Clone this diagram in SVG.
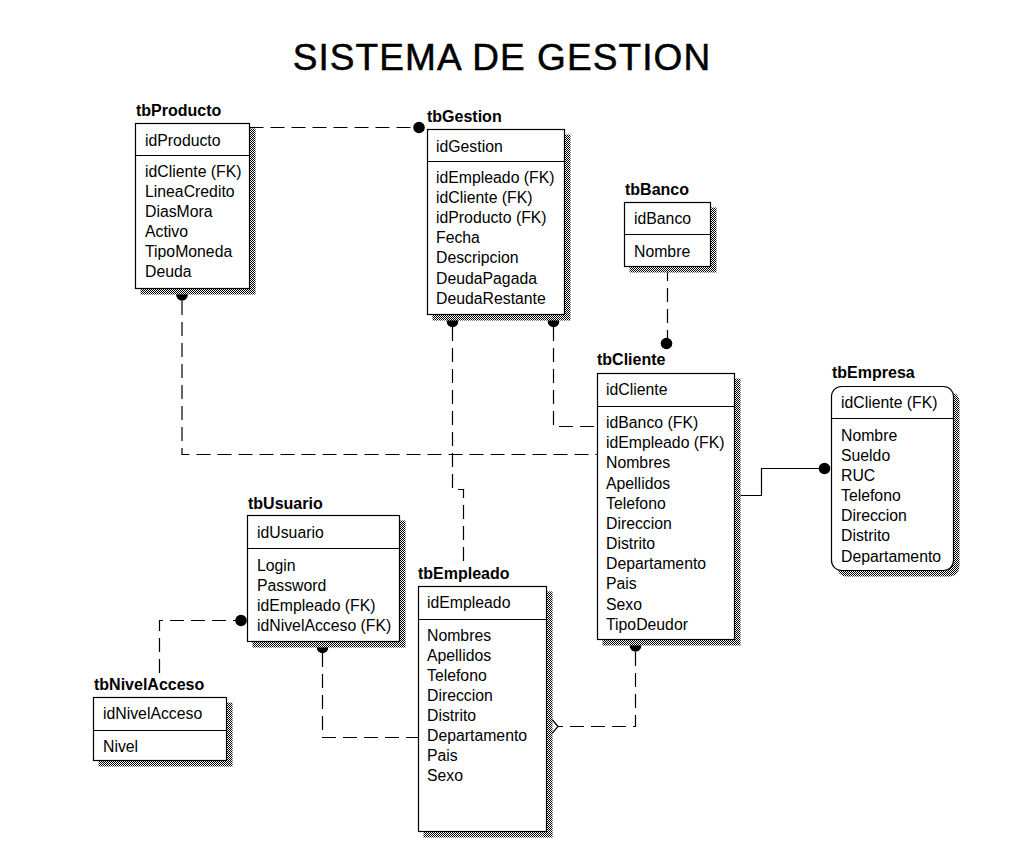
<svg xmlns="http://www.w3.org/2000/svg" width="1014" height="867" viewBox="0 0 1014 867">
<defs>
<pattern id="chk" width="2" height="2" patternUnits="userSpaceOnUse">
<rect width="2" height="2" fill="#ffffff"/>
<rect x="0" y="0" width="1" height="1" fill="#000000"/>
<rect x="1" y="1" width="1" height="1" fill="#000000"/>
</pattern>
<style>
.title{font-family:"Liberation Sans",Arial,sans-serif;font-size:37px;letter-spacing:1.1px;fill:#000;stroke:#000;stroke-width:0.5}
.lbl{font-family:"Liberation Sans",Arial,sans-serif;font-size:16px;font-weight:bold;fill:#000}
.t{font-family:"Liberation Sans",Arial,sans-serif;font-size:15.8px;fill:#000}
.box{fill:#fff;stroke:#000;stroke-width:1.2}
.sh{fill:url(#chk);stroke:none}
.div{stroke:#000;stroke-width:1.2;fill:none}
.dash{fill:none;stroke:#000;stroke-width:1.2;stroke-dasharray:14 7}
.solid{fill:none;stroke:#000;stroke-width:1.2}
.dot{fill:#000}
.dia{fill:#fff;stroke:#000;stroke-width:1.2}
</style>
</defs>
<rect width="1014" height="867" fill="#fff"/>
<text class="title" x="502" y="69.5" text-anchor="middle">SISTEMA DE GESTION</text>

<g id="connectors">
<path class="dash" d="M249.5 127.5 H414"/>
<circle class="dot" cx="419" cy="127.5" r="5.8"/>
<circle class="dot" cx="182" cy="295" r="5.8"/>
<path class="dash" d="M182 301 V454.5 H597"/>
<circle class="dot" cx="452.5" cy="321.5" r="5.8"/>
<path class="dash" d="M452.5 327 V489.5 H463.5 V564"/>
<circle class="dot" cx="553.5" cy="321.5" r="5.8"/>
<path class="dash" d="M553.5 327 V426.5 H597"/>
<path class="dash" d="M667.5 267 V338"/>
<circle class="dot" cx="666.5" cy="343.5" r="5.8"/>
<path class="solid" d="M735 495.5 H761.5 V468.5 H819"/>
<circle class="dot" cx="824.5" cy="468.5" r="5.8"/>
<circle class="dot" cx="635.5" cy="646" r="5.8"/>
<path class="dash" d="M635.5 652 V726.5 H558"/>
<polygon class="dia" points="558,726.5 552.5,720 547,726.5 552.5,733"/>
<circle class="dot" cx="322.5" cy="647.5" r="5.8"/>
<path class="dash" d="M322.5 653 V737.5 H418"/>
<path class="dash" d="M159.5 673 V620.5 H236"/>
<circle class="dot" cx="241" cy="620.5" r="5.8"/>
</g>

<g id="tbProducto">
<rect class="sh" x="140.5" y="128.5" width="115" height="166"/>
<rect class="box" x="135.5" y="123.5" width="114" height="165"/>
<line class="div" x1="135.5" y1="155.5" x2="249.5" y2="155.5"/>
<text class="lbl" x="136" y="116">tbProducto</text>
<text class="t" x="145" y="146">idProducto</text>
<text class="t" x="145" y="177">idCliente (FK)</text>
<text class="t" x="145" y="197">LineaCredito</text>
<text class="t" x="145" y="217">DiasMora</text>
<text class="t" x="145" y="237">Activo</text>
<text class="t" x="145" y="257">TipoMoneda</text>
<text class="t" x="145" y="277">Deuda</text>
</g>

<g id="tbGestion">
<rect class="sh" x="432.5" y="134.5" width="138" height="186"/>
<rect class="box" x="427.5" y="129.5" width="137" height="185"/>
<line class="div" x1="427.5" y1="161.5" x2="564.5" y2="161.5"/>
<text class="lbl" x="427" y="122">tbGestion</text>
<text class="t" x="436" y="152">idGestion</text>
<text class="t" x="436" y="183">idEmpleado (FK)</text>
<text class="t" x="436" y="203">idCliente (FK)</text>
<text class="t" x="436" y="223">idProducto (FK)</text>
<text class="t" x="436" y="243">Fecha</text>
<text class="t" x="436" y="263">Descripcion</text>
<text class="t" x="436" y="284">DeudaPagada</text>
<text class="t" x="436" y="304">DeudaRestante</text>
</g>

<g id="tbBanco">
<rect class="sh" x="629.5" y="207.5" width="87" height="65"/>
<rect class="box" x="624.5" y="202.5" width="86" height="64"/>
<line class="div" x1="624.5" y1="234.5" x2="710.5" y2="234.5"/>
<text class="lbl" x="625" y="195">tbBanco</text>
<text class="t" x="634" y="224">idBanco</text>
<text class="t" x="634" y="257">Nombre</text>
</g>

<g id="tbCliente">
<rect class="sh" x="602.5" y="378.5" width="138" height="267"/>
<rect class="box" x="597.5" y="373.5" width="137" height="266"/>
<line class="div" x1="597.5" y1="406.5" x2="734.5" y2="406.5"/>
<text class="lbl" x="597" y="365">tbCliente</text>
<text class="t" x="606" y="395">idCliente</text>
<text class="t" x="606" y="428">idBanco (FK)</text>
<text class="t" x="606" y="448">idEmpleado (FK)</text>
<text class="t" x="606" y="468">Nombres</text>
<text class="t" x="606" y="489">Apellidos</text>
<text class="t" x="606" y="509">Telefono</text>
<text class="t" x="606" y="529">Direccion</text>
<text class="t" x="606" y="549">Distrito</text>
<text class="t" x="606" y="569">Departamento</text>
<text class="t" x="606" y="589">Pais</text>
<text class="t" x="606" y="610">Sexo</text>
<text class="t" x="606" y="630">TipoDeudor</text>
</g>

<g id="tbEmpresa">
<rect class="sh" x="836.5" y="391.5" width="123" height="185" rx="10"/>
<rect class="box" x="831.5" y="386.5" width="122" height="184" rx="10"/>
<line class="div" x1="831.5" y1="418.5" x2="953.5" y2="418.5"/>
<text class="lbl" x="832" y="378">tbEmpresa</text>
<text class="t" x="841" y="408">idCliente (FK)</text>
<text class="t" x="841" y="441">Nombre</text>
<text class="t" x="841" y="461">Sueldo</text>
<text class="t" x="841" y="481">RUC</text>
<text class="t" x="841" y="501">Telefono</text>
<text class="t" x="841" y="521">Direccion</text>
<text class="t" x="841" y="541">Distrito</text>
<text class="t" x="841" y="562">Departamento</text>
</g>

<g id="tbUsuario">
<rect class="sh" x="252.5" y="520.5" width="153" height="127"/>
<rect class="box" x="247.5" y="515.5" width="152" height="126"/>
<line class="div" x1="247.5" y1="548.5" x2="399.5" y2="548.5"/>
<text class="lbl" x="248" y="509">tbUsuario</text>
<text class="t" x="257" y="538">idUsuario</text>
<text class="t" x="257" y="571">Login</text>
<text class="t" x="257" y="591">Password</text>
<text class="t" x="257" y="611">idEmpleado (FK)</text>
<text class="t" x="257" y="631">idNivelAcceso (FK)</text>
</g>

<g id="tbNivelAcceso">
<rect class="sh" x="98.5" y="702.5" width="134" height="64"/>
<rect class="box" x="93.5" y="697.5" width="133" height="63"/>
<line class="div" x1="93.5" y1="730.5" x2="226.5" y2="730.5"/>
<text class="lbl" x="94" y="690">tbNivelAcceso</text>
<text class="t" x="103" y="719">idNivelAcceso</text>
<text class="t" x="103" y="752">Nivel</text>
</g>

<g id="tbEmpleado">
<rect class="sh" x="423.5" y="591.5" width="129" height="246"/>
<rect class="box" x="418.5" y="586.5" width="128" height="245"/>
<line class="div" x1="418.5" y1="619.5" x2="546.5" y2="619.5"/>
<text class="lbl" x="418" y="579">tbEmpleado</text>
<text class="t" x="427" y="608">idEmpleado</text>
<text class="t" x="427" y="641">Nombres</text>
<text class="t" x="427" y="661">Apellidos</text>
<text class="t" x="427" y="681">Telefono</text>
<text class="t" x="427" y="701">Direccion</text>
<text class="t" x="427" y="721">Distrito</text>
<text class="t" x="427" y="741">Departamento</text>
<text class="t" x="427" y="761">Pais</text>
<text class="t" x="427" y="781">Sexo</text>
</g>
</svg>
